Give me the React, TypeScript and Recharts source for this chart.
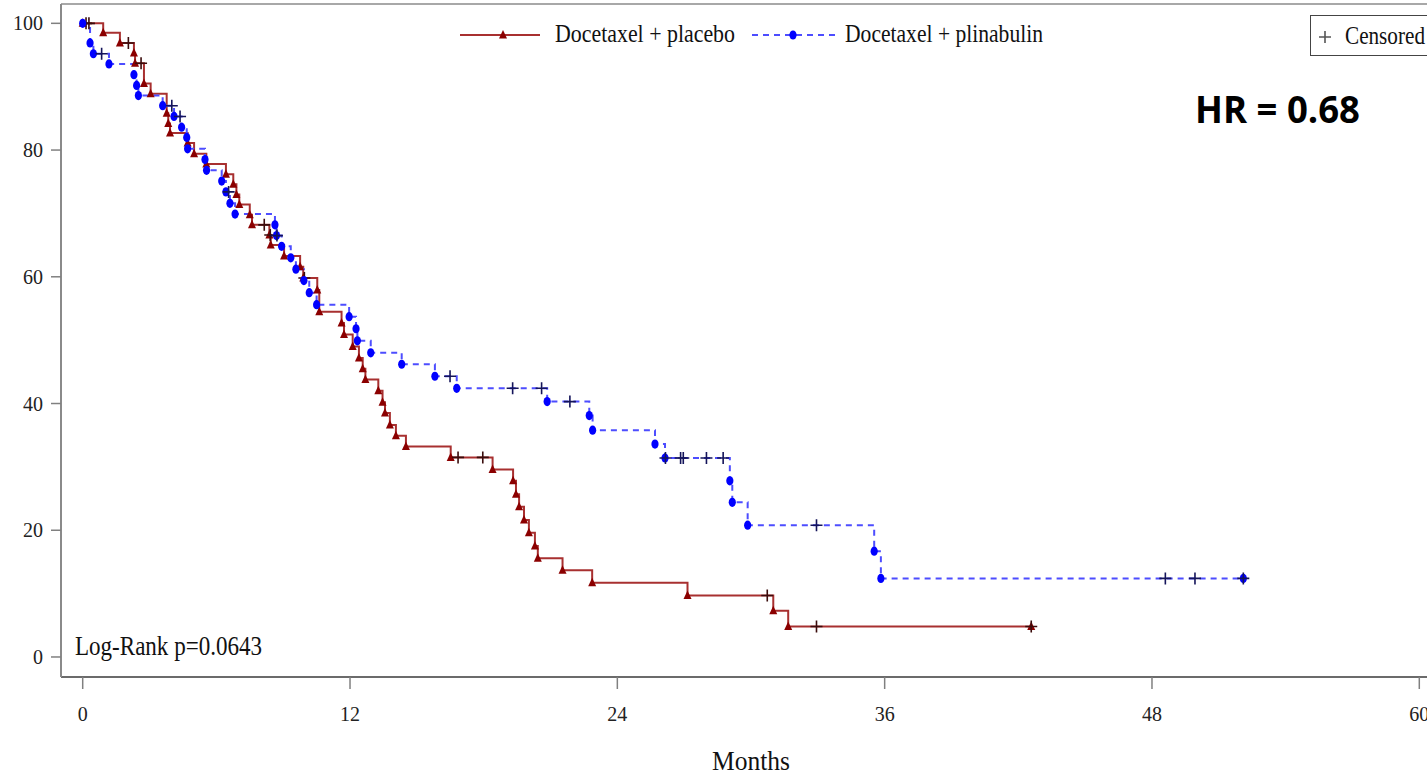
import React from 'react';
import { ComposedChart, Line, XAxis, YAxis, ReferenceLine, Legend, Customized } from 'recharts';

// ---- data: [month, survival %, flag] flag 0 = event, 1 = censored ----
const xTicks = [0, 12, 24, 36, 48, 60];
const yTicks = [0, 20, 40, 60, 80, 100];
const xDomain: [number, number] = [-0.974, 60.974];
const yDomain: [number, number] = [-3.16, 103.05];

const seriesNames = ['Docetaxel + placebo', 'Docetaxel + plinabulin'];
const censorLabel = 'Censored';
const pValueText = 'Log-Rank p=0.0643';
const hrText = 'HR = 0.68';
const axisTitle = 'Months';

const placebo: [number, number, number][] = [
  [0, 100, 0], [0.15, 100, 1], [0.28, 100, 1], [0.92, 98.5, 0], [1.67, 96.9, 0], [2.05, 96.9, 1],
  [2.3, 95.3, 0], [2.35, 93.7, 0], [2.62, 93.7, 1], [2.75, 90.5, 0], [3.05, 88.9, 0],
  [3.77, 85.8, 0], [3.84, 84.2, 0], [3.92, 82.7, 0], [4.71, 81.1, 0], [5.0, 79.4, 0],
  [5.55, 77.8, 0], [6.43, 76.2, 0], [6.76, 74.6, 0], [6.9, 73.0, 0], [7.03, 71.4, 0],
  [7.5, 69.8, 0], [7.6, 68.2, 0], [8.15, 68.2, 1], [8.38, 66.6, 0], [8.42, 66.6, 1],
  [8.44, 65.0, 0], [9.04, 63.3, 0], [9.76, 61.6, 0], [9.9, 59.8, 0], [9.95, 59.8, 1],
  [10.53, 57.9, 0], [10.62, 54.5, 0], [11.62, 52.7, 0], [11.73, 50.9, 0], [12.12, 49.0, 0],
  [12.4, 47.2, 0], [12.57, 45.5, 0], [12.69, 43.8, 0], [13.27, 42.0, 0], [13.46, 40.2, 0],
  [13.57, 38.5, 0], [13.79, 36.6, 0], [14.06, 34.9, 0], [14.51, 33.2, 0], [16.52, 31.5, 0],
  [16.85, 31.5, 1], [17.96, 31.5, 1], [18.4, 29.6, 0], [19.32, 27.8, 0], [19.45, 25.7, 0],
  [19.59, 23.7, 0], [19.81, 21.6, 0], [20.03, 19.6, 0], [20.3, 17.5, 0], [20.43, 15.6, 0],
  [21.54, 13.7, 0], [22.87, 11.7, 0], [27.15, 9.7, 0], [30.73, 9.7, 1], [31.0, 7.3, 0],
  [31.67, 4.8, 0], [32.94, 4.8, 1], [42.58, 4.8, 1],
];

const plinabulin: [number, number, number][] = [
  [0, 100, 0], [0.33, 96.9, 0], [0.48, 95.2, 0], [0.85, 95.2, 1], [1.18, 93.6, 0],
  [2.3, 91.9, 0], [2.42, 90.2, 0], [2.5, 88.6, 0], [3.59, 87.0, 0], [4.0, 87.0, 1],
  [4.1, 85.3, 0], [4.37, 85.3, 1], [4.44, 83.6, 0], [4.67, 82.0, 0], [4.71, 80.2, 0],
  [5.49, 78.5, 0], [5.56, 76.8, 0], [6.24, 75.1, 0], [6.43, 73.4, 0], [6.55, 73.4, 1],
  [6.61, 71.6, 0], [6.84, 69.9, 0], [8.63, 68.2, 0], [8.7, 66.5, 0], [8.72, 66.5, 1],
  [8.93, 64.8, 0], [9.34, 63.0, 0], [9.57, 61.2, 0], [9.93, 59.4, 0], [10.17, 57.5, 0],
  [10.5, 55.6, 0], [11.96, 53.7, 0], [12.27, 51.8, 0], [12.33, 49.9, 0], [12.93, 48.0, 0],
  [14.32, 46.2, 0], [15.81, 44.3, 0], [16.49, 44.3, 1], [16.79, 42.4, 0], [19.3, 42.4, 1],
  [20.6, 42.4, 1], [20.85, 40.3, 0], [21.87, 40.3, 1], [22.74, 38.1, 0], [22.89, 35.8, 0],
  [25.69, 33.6, 0], [26.14, 31.4, 0], [26.16, 31.4, 1], [26.84, 31.4, 1], [26.96, 31.4, 1],
  [28.0, 31.4, 1], [28.75, 31.4, 1], [29.05, 27.8, 0], [29.16, 24.4, 0], [29.85, 20.8, 0],
  [32.94, 20.8, 1], [35.53, 16.7, 0], [35.83, 12.4, 0], [48.6, 12.4, 1], [49.93, 12.4, 1],
  [52.1, 12.4, 1],
];

// ---- styles ----
const SERIF = "'Liberation Serif', 'Times New Roman', serif";
const RED_LINE = '#a83030';
const RED_MARK = '#8b0000';
const RED_CENSOR = '#3a0c0c';
const BLUE_LINE = '#4d4dff';
const BLUE_MARK = '#0000ff';
const BLUE_CENSOR = '#14145a';

const toRows = (arr: [number, number, number][]) => arr.map(([t, s, c]) => ({ t, s, c }));
const placeboRows = toRows(placebo);
const plinabulinRows = toRows(plinabulin);

const Triangle = ({ cx, cy }: { cx: number; cy: number }) => (
  <polygon points={`${cx},${cy - 5} ${cx - 4},${cy + 3.5} ${cx + 4},${cy + 3.5}`} fill={RED_MARK} />
);
const Dot = ({ cx, cy }: { cx: number; cy: number }) => (
  <ellipse cx={cx} cy={cy} rx={3.6} ry={4.6} fill={BLUE_MARK} />
);
const Plus = ({ cx, cy, color }: { cx: number; cy: number; color: string }) => (
  <path d={`M${cx - 6},${cy} H${cx + 6} M${cx},${cy - 6} V${cy + 6}`} stroke={color} strokeWidth={1.6} fill="none" />
);

const makeDot = (kind: 'tri' | 'dot', lastIndex: number) => (props: any) => {
  const { cx, cy, payload, index } = props;
  if (cx == null || cy == null) return <g key={`${kind}-${index}`} />;
  const showMarker = payload.c === 0 || index === lastIndex;
  const showCensor = payload.c === 1;
  return (
    <g key={`${kind}-${index}`}>
      {showMarker && (kind === 'tri' ? <Triangle cx={cx} cy={cy} /> : <Dot cx={cx} cy={cy} />)}
      {showCensor && <Plus cx={cx} cy={cy} color={kind === 'tri' ? RED_CENSOR : BLUE_CENSOR} />}
    </g>
  );
};

const XTick = (props: any) => {
  const { x, y, payload } = props;
  return (
    <text x={x} y={y} dy="0.71em" textAnchor="middle" fontSize={20} fontFamily={SERIF} fill="#222">
      {payload.value}
    </text>
  );
};
const YTick = (props: any) => {
  const { x, y, payload } = props;
  return (
    <text x={x} y={y} dy="0.355em" textAnchor="end" fontSize={20} fontFamily={SERIF} fill="#222">
      {payload.value}
    </text>
  );
};

const renderLegend = () => (
  <svg width={1460} height={70} style={{ display: 'block', overflow: 'visible' }}>
    <line x1={460} x2={540} y1={35} y2={35} stroke={RED_LINE} strokeWidth={2} />
    <Triangle cx={503} cy={35} />
    <text x={555} y={42} fontSize={25} fontFamily={SERIF} fill="#111" textLength={180} lengthAdjust="spacingAndGlyphs">
      {seriesNames[0]}
    </text>
    <line x1={752} x2={835} y1={35} y2={35} stroke={BLUE_LINE} strokeWidth={2} strokeDasharray="6 5" />
    <Dot cx={793} cy={35} />
    <text x={845} y={42} fontSize={25} fontFamily={SERIF} fill="#111" textLength={198} lengthAdjust="spacingAndGlyphs">
      {seriesNames[1]}
    </text>
    <rect x={1310.5} y={15.5} width={150} height={40} fill="#fff" stroke="#444" strokeWidth={1} />
    <Plus cx={1325} cy={37} color="#555" />
    <text x={1345} y={44} fontSize={25} fontFamily={SERIF} fill="#111" textLength={80} lengthAdjust="spacingAndGlyphs">
      {censorLabel}
    </text>
  </svg>
);

const Annotations = () => (
  <g>
    <text x={75} y={655} fontSize={27} fontFamily={SERIF} fill="#111" textLength={187} lengthAdjust="spacingAndGlyphs">
      {pValueText}
    </text>
    <text x={1195} y={123} fontSize={38} fontWeight={700} fontFamily="'Open Sans', 'Liberation Sans', sans-serif" fill="#000" textLength={165} lengthAdjust="spacingAndGlyphs">
      {hrText}
    </text>
  </g>
);

const MonthsLabel = (props: any) => {
  const vb = props.viewBox || { x: 61, y: 677, width: 1380, height: 97 };
  return (
    <text x={vb.x + vb.width / 2} y={vb.y + vb.height - 4} textAnchor="middle" fontSize={27} fontFamily={SERIF} fill="#111" textLength={78} lengthAdjust="spacingAndGlyphs">
      {axisTitle}
    </text>
  );
};

export default function App() {
  return (
    <div style={{ position: 'absolute', left: 0, top: 0, width: 1427, height: 774, overflow: 'hidden', background: '#fff' }}>
      <ComposedChart width={1460} height={774} margin={{ top: 4, right: 19, bottom: 0, left: 0 }}>
        <XAxis
          type="number"
          dataKey="t"
          domain={xDomain}
          allowDataOverflow
          ticks={xTicks}
          interval={0}
          height={97}
          tickSize={12}
          tickMargin={18}
          tick={<XTick />}
          axisLine={{ stroke: '#3a3a3a', strokeWidth: 1.6 }}
          tickLine={{ stroke: '#808080', strokeWidth: 1.5 }}
          label={{ position: 'insideBottom', content: MonthsLabel }}
        />
        <YAxis
          type="number"
          dataKey="s"
          domain={yDomain}
          allowDataOverflow
          ticks={yTicks}
          interval={0}
          width={61}
          tickSize={10}
          tickMargin={8}
          tick={<YTick />}
          axisLine={{ stroke: '#8a8a8a', strokeWidth: 2 }}
          tickLine={{ stroke: '#808080', strokeWidth: 1.5 }}
        />
        <ReferenceLine y={yDomain[1]} stroke="#a8a8a8" strokeWidth={2} ifOverflow="visible" />
        <Line
          data={placeboRows}
          dataKey="s"
          type="stepAfter"
          stroke={RED_LINE}
          strokeWidth={2}
          dot={makeDot('tri', placeboRows.length - 1)}
          activeDot={false}
          isAnimationActive={false}
          name={seriesNames[0]}
        />
        <Line
          data={plinabulinRows}
          dataKey="s"
          type="stepAfter"
          stroke={BLUE_LINE}
          strokeWidth={2}
          strokeDasharray="6 5"
          dot={makeDot('dot', plinabulinRows.length - 1)}
          activeDot={false}
          isAnimationActive={false}
          name={seriesNames[1]}
        />
        <Customized component={Annotations} />
        <Legend
          layout="horizontal"
          verticalAlign="middle"
          align="center"
          wrapperStyle={{ left: 0, top: 0, width: 1460, height: 70 }}
          content={renderLegend}
        />
      </ComposedChart>
    </div>
  );
}
